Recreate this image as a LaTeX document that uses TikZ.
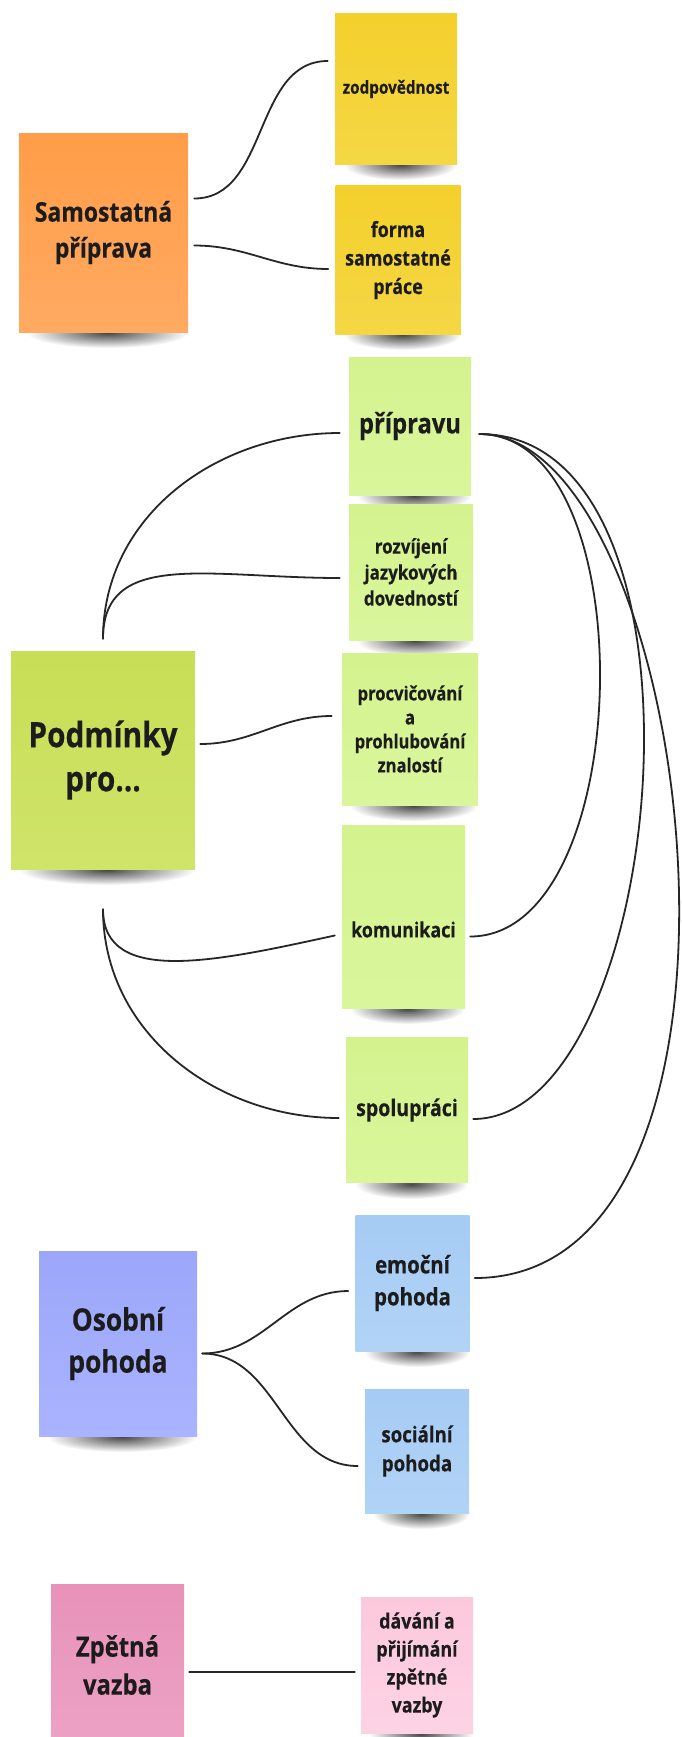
\documentclass[tikz,border=0pt]{standalone}
\usepackage{fontspec}
\newfontfamily\nf[FakeStretch=0.85, FakeBold=0.35]{Open Sans}
\usetikzlibrary{fadings}
\tikzfading[name=shfade, inner color=transparent!10, outer color=transparent!100]
\definecolor{cOrange}{HTML}{FF9D48}
\definecolor{cOrangeB}{HTML}{FFAA62}
\definecolor{cYellow}{HTML}{F4D02C}
\definecolor{cYellowB}{HTML}{F5D745}
\definecolor{cLGreen}{HTML}{D4F38E}
\definecolor{cLGreenB}{HTML}{DAF69C}
\definecolor{cGreen}{HTML}{C8DE55}
\definecolor{cGreenB}{HTML}{CFE46A}
\definecolor{cBlue}{HTML}{A6CBF4}
\definecolor{cBlueB}{HTML}{B1D3F6}
\definecolor{cPurple}{HTML}{9CA7FA}
\definecolor{cPurpleB}{HTML}{A9B3FE}
\definecolor{cPink}{HTML}{E892B9}
\definecolor{cPinkB}{HTML}{EDA3C6}
\definecolor{cLPink}{HTML}{FCC8DC}
\definecolor{cLPinkB}{HTML}{FDD3E4}
\definecolor{cText}{HTML}{1C1C1C}
\definecolor{cLine}{HTML}{262626}
\tikzset{
  note/.style={rectangle, inner sep=0pt, align=center, text=cText,
    font=\nf\bfseries},
  conn/.style={draw=cLine, line width=1.8pt, line cap=round},
}
\newcommand{\noteshadow}[3]{% left right bottom
  \fill[black, opacity=0.8, path fading=shfade]
    ({(#1+#2)/2+4},{#3+1}) ellipse [x radius={(#2-#1)/2-4}, y radius=15];
}
\begin{document}
\begin{tikzpicture}[x=1pt,y=-1pt]
\useasboundingbox (0,0) rectangle (681,1737);
\fill[white] (0,0) rectangle (681,1737);
\begin{scope}
\clip (0,0) rectangle (681,1737);
% shadows
\noteshadow{19}{188}{332}
\noteshadow{336}{457}{164}
\noteshadow{336}{461}{334}
\noteshadow{349}{471}{495}
\noteshadow{349}{473}{640}
\noteshadow{342}{478}{805}
\noteshadow{342}{465}{1008}
\noteshadow{347}{468}{1183}
\noteshadow{356}{470}{1351}
\noteshadow{365}{470}{1513}
\noteshadow{361}{473}{1733}
\noteshadow{11}{195}{869}
\noteshadow{39}{197}{1436}
% notes
\node[note, top color=cOrange, bottom color=cOrangeB, minimum width=169pt, minimum height=199pt,
  font=\nf\bfseries\fontsize{27}{36}\selectfont] (sam) at (103.5,232.5) {Samostatná\\příprava};
\node[note, top color=cYellow, bottom color=cYellowB, minimum width=122pt, minimum height=150pt,
  font=\nf\bfseries\fontsize{18}{24}\selectfont] (zod) at (396,89) {zodpovědnost};
\node[note, top color=cYellow, bottom color=cYellowB, minimum width=125pt, minimum height=149pt,
  font=\nf\bfseries\fontsize{21}{28.5}\selectfont] (forma) at (398,260) {forma\\samostatné\\práce};
\node[note, top color=cLGreen, bottom color=cLGreenB, minimum width=122pt, minimum height=138pt,
  font=\nf\bfseries\fontsize{28}{34}\selectfont] (prip) at (410,426) {přípravu};
\node[note, top color=cLGreen, bottom color=cLGreenB, minimum width=124pt, minimum height=136pt,
  font=\nf\bfseries\fontsize{20}{26}\selectfont] (rozv) at (411,572) {rozvíjení\\jazykových\\dovedností};
\node[note, top color=cLGreen, bottom color=cLGreenB, minimum width=136pt, minimum height=152pt,
  font=\nf\bfseries\fontsize{19.5}{24}\selectfont] (procv) at (410,729) {procvičování\\a\\prohlubování\\znalostí};
\node[note, top color=cLGreen, bottom color=cLGreenB, minimum width=123pt, minimum height=183pt,
  font=\nf\bfseries\fontsize{21}{26}\selectfont] (kom) at (403.5,916.5) {\raisebox{-13pt}[\height][\depth]{komunikaci}};
\node[note, top color=cLGreen, bottom color=cLGreenB, minimum width=122pt, minimum height=145pt,
  font=\nf\bfseries\fontsize{23}{28}\selectfont] (spol) at (407,1110) {spolupráci};
\node[note, top color=cBlue, bottom color=cBlueB, minimum width=114pt, minimum height=136pt,
  font=\nf\bfseries\fontsize{24}{32}\selectfont] (emo) at (412.5,1283) {emoční\\pohoda};
\node[note, top color=cBlue, bottom color=cBlueB, minimum width=104pt, minimum height=124pt,
  font=\nf\bfseries\fontsize{22}{29}\selectfont] (soc) at (417,1451) {sociální\\pohoda};
\node[note, top color=cLPink, bottom color=cLPinkB, minimum width=112pt, minimum height=136pt,
  font=\nf\bfseries\fontsize{21}{28}\selectfont] (dav) at (417,1665) {dávání a\\přijímání\\zpětné\\vazby};
\node[note, top color=cGreen, bottom color=cGreenB, minimum width=184pt, minimum height=218pt,
  font=\nf\bfseries\fontsize{35}{44}\selectfont] (podm) at (103,760) {Podmínky\\pro...};
\node[note, top color=cPurple, bottom color=cPurpleB, minimum width=158pt, minimum height=185pt,
  font=\nf\bfseries\fontsize{31}{42}\selectfont] (osob) at (118,1343.5) {Osobní\\pohoda};
\node[note, top color=cPink, bottom color=cPinkB, minimum width=133pt, minimum height=170pt,
  font=\nf\bfseries\fontsize{28}{38}\selectfont] (zpet) at (117.5,1669) {\raisebox{4pt}[\height][\depth]{Zpětná}\\\raisebox{4pt}[\height][\depth]{vazba}};
\end{scope}
% connector end points
\coordinate (samA) at ([shift={(6,-34)}]sam.east);
\coordinate (samB) at ([shift={(6,13)}]sam.east);
\coordinate (zodL) at ([shift={(-7,-28)}]zod.west);
\coordinate (formaL) at ([shift={(-7,9)}]forma.west);
\coordinate (podmT) at ([shift={(0,-12)}]podm.north);
\coordinate (podmB) at ([shift={(0,40)}]podm.south);
\coordinate (podmR) at ([shift={(5,-16)}]podm.east);
\coordinate (pripL) at ([shift={(-9,7)}]prip.west);
\coordinate (pripR) at ([shift={(8,8)}]prip.east);
\coordinate (rozvL) at ([shift={(-9,6)}]rozv.west);
\coordinate (procvL) at ([shift={(-10,-13)}]procv.west);
\coordinate (komL) at ([shift={(-7,19)}]kom.west);
\coordinate (komR) at ([shift={(5,20)}]kom.east);
\coordinate (spolL) at ([shift={(-7,8)}]spol.west);
\coordinate (spolR) at ([shift={(5,9)}]spol.east);
\coordinate (emoL) at ([shift={(-7,8)}]emo.west);
\coordinate (emoR) at ([shift={(5,-5)}]emo.east);
\coordinate (osobR) at ([shift={(5,10)}]osob.east);
\coordinate (socL) at ([shift={(-7,15)}]soc.west);
\coordinate (zpetR) at ([shift={(5,3)}]zpet.east);
\coordinate (davL) at ([xshift=-6pt]dav.west |- zpetR);
% connectors
\draw[conn] (samA) to[out=0,in=180] (zodL);
\draw[conn] (samB) to[out=0,in=180] (formaL);
\draw[conn] (podmT) to[out=90,in=180] (pripL);
\draw[conn] (podmT) .. controls +(0,-90) and +(-130,0) .. (rozvL);
\draw[conn] (podmR) to[out=0,in=180] (procvL);
\draw[conn] (podmB) .. controls +(0,78) and +(-115,25) .. (komL);
\draw[conn] (podmB) to[out=-90,in=180] (spolL);
\draw[conn] (pripR) .. controls +(167,0) and +(167,0) .. (komR);
\draw[conn] (pripR) .. controls +(250,0) and +(195,0) .. (spolR);
\draw[conn] (pripR) .. controls +(215,0) and +(320,0) .. (emoR);
\draw[conn] (osobR) to[out=0,in=180] (emoL);
\draw[conn] (osobR) to[out=0,in=180] (socL);
\draw[conn] (zpetR) -- (davL);
\end{tikzpicture}
\end{document}
